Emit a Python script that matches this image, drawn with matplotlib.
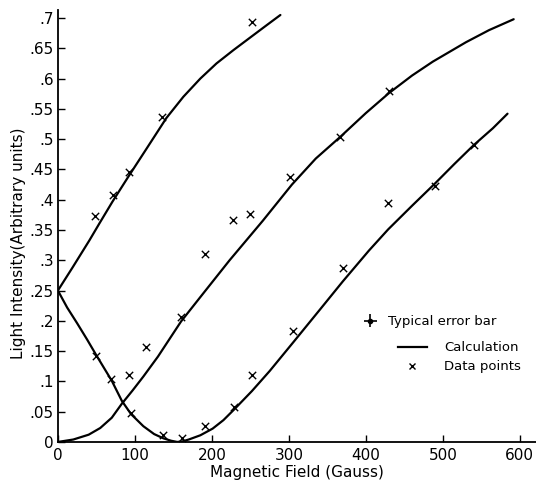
import matplotlib
matplotlib.use("Agg")
import matplotlib.pyplot as plt
from matplotlib.lines import Line2D

# calculated curves
calc_a_x = [0, 19, 41, 54, 71, 91, 114, 141, 163, 185, 206, 228, 250, 271, 289]
calc_a_y = [0.25, 0.288, 0.333, 0.361, 0.397, 0.437, 0.482, 0.535, 0.570, 0.600, 0.625, 0.647, 0.668, 0.688, 0.705]

calc_b_x = [0, 12, 25, 38, 50, 60, 70, 83, 95, 111, 125, 137, 147, 155, 162, 170, 185, 201, 215, 230,
            252, 275, 306, 340, 370, 404, 429, 460, 490, 515, 540, 565, 584]
calc_b_y = [0.25, 0.222, 0.196, 0.169, 0.143, 0.122, 0.101, 0.068, 0.046, 0.026, 0.013, 0.006, 0.002, 0.0, 0.001, 0.004, 0.011, 0.022, 0.036, 0.055,
            0.084, 0.117, 0.165, 0.218, 0.265, 0.316, 0.351, 0.39, 0.427, 0.459, 0.49, 0.518, 0.542]

calc_c_x = [0, 20, 40, 55, 70, 83, 97, 111, 130, 145, 160, 188, 223, 266, 304, 335, 367, 400, 430, 460, 487, 530, 560, 592]
calc_c_y = [0.0, 0.004, 0.012, 0.023, 0.04, 0.063, 0.085, 0.108, 0.141, 0.17, 0.199, 0.244, 0.30, 0.365, 0.425, 0.468, 0.504, 0.543, 0.576, 0.605, 0.628, 0.66, 0.68, 0.698]

# measured points
data_x = [48, 72, 93, 135, 252,
          49, 69, 95, 137, 161, 191, 229, 252, 306, 370, 429, 490, 540,
          92, 115, 160, 191, 228, 249, 302, 367, 430]
data_y = [0.373, 0.408, 0.445, 0.536, 0.693,
          0.142, 0.104, 0.048, 0.011, 0.007, 0.027, 0.057, 0.11, 0.183, 0.287, 0.394, 0.423, 0.491,
          0.11, 0.156, 0.207, 0.31, 0.367, 0.377, 0.438, 0.504, 0.58]

x_ticks = [0, 100, 200, 300, 400, 500, 600]
y_ticks = [0, 0.05, 0.1, 0.15, 0.2, 0.25, 0.3, 0.35, 0.4, 0.45, 0.5, 0.55, 0.6, 0.65, 0.7]
y_labels = ["0", ".05", ".1", ".15", ".2", ".25", ".3", ".35", ".4", ".45", ".5", ".55", ".6", ".65", ".7"]

fig = plt.figure(figsize=(5.36, 4.83), dpi=100)
ax = fig.add_axes([0.108, 0.085, 0.892, 0.894])

for cx, cy in [(calc_a_x, calc_a_y), (calc_b_x, calc_b_y), (calc_c_x, calc_c_y)]:
    ax.plot(cx, cy, color="black", lw=1.6, solid_capstyle="round", solid_joinstyle="round")

ax.scatter(data_x, data_y, marker="x", s=28, color="black", linewidths=1.0, zorder=3)

ax.set_xlim(0, 621)
ax.set_ylim(0, 0.713)
ax.set_xticks(x_ticks)
ax.set_yticks(y_ticks)
ax.set_yticklabels(y_labels)
ax.tick_params(direction="in", length=5, width=1.0, labelsize=11)
ax.tick_params(axis="x", pad=4)
ax.tick_params(axis="y", pad=3)
for side in ["top", "right"]:
    ax.spines[side].set_visible(False)
ax.spines["left"].set_linewidth(1.3)
ax.spines["bottom"].set_linewidth(1.3)

ax.set_xlabel("Magnetic Field (Gauss)", fontsize=11, labelpad=2)
ax.set_ylabel("Light Intensity(Arbitrary units)", fontsize=11)
ax.yaxis.set_label_coords(-0.066, 0.46)

# legend, split in two so the error bar row sits further left
err_handle = ax.errorbar([], [], xerr=[], yerr=[], fmt="o", color="black",
                         markersize=3, capsize=2, elinewidth=1.2)
leg1 = ax.legend([err_handle], ["Typical error bar"], loc="center left",
                 bbox_to_anchor=(0.64, 0.278), frameon=False, fontsize=9.5,
                 handlelength=1.0, handletextpad=0.8, borderpad=0, borderaxespad=0)
ax.add_artist(leg1)
handles = [Line2D([], [], color="black", lw=1.6),
           Line2D([], [], color="black", marker="x", ls="none", markersize=5, mew=1.0)]
ax.legend(handles, ["Calculation", "Data points"], loc="center left",
          bbox_to_anchor=(0.711, 0.196), frameon=False, fontsize=9.5,
          handlelength=2.2, handletextpad=1.3, labelspacing=0.45,
          borderpad=0, borderaxespad=0)

fig.savefig("out.png", dpi=100)
